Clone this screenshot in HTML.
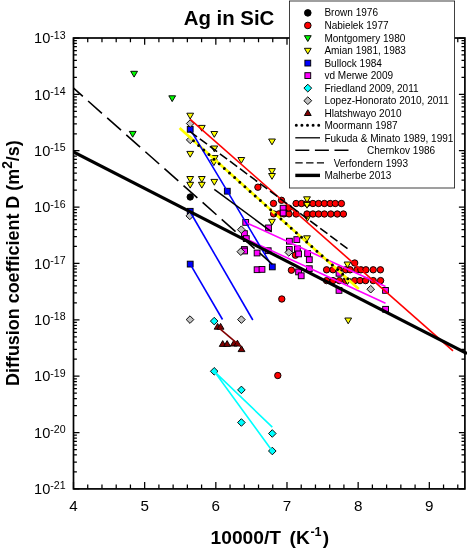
<!DOCTYPE html>
<html><head><meta charset="utf-8"><title>Ag in SiC</title><style>html,body{margin:0;padding:0;background:#fff}</style></head><body>
<svg width="467" height="549" viewBox="0 0 467 549" style="display:block">
<rect width="467" height="549" fill="#fff"/>
<defs><clipPath id="c"><rect x="73.50" y="38.00" width="393.50" height="450.90"/></clipPath></defs>
<g clip-path="url(#c)">
<circle cx="190.2" cy="197" r="3.2" fill="#000" stroke="#000" stroke-width="0.95"/>
<path d="M304.0 215.5H310.8L307.4 221.3Z" fill="#ff0" stroke="#000" stroke-width="0.95"/>
<circle cx="257.9" cy="187.2" r="3.2" fill="#f00" stroke="#000" stroke-width="0.95"/>
<circle cx="281.5" cy="200.3" r="3.2" fill="#f00" stroke="#000" stroke-width="0.95"/>
<circle cx="273.5" cy="203.4" r="3.2" fill="#f00" stroke="#000" stroke-width="0.95"/>
<circle cx="273.6" cy="213.9" r="3.2" fill="#f00" stroke="#000" stroke-width="0.95"/>
<circle cx="278.8" cy="213.9" r="3.2" fill="#f00" stroke="#000" stroke-width="0.95"/>
<circle cx="283.9" cy="213.9" r="3.2" fill="#f00" stroke="#000" stroke-width="0.95"/>
<circle cx="289" cy="213.9" r="3.2" fill="#f00" stroke="#000" stroke-width="0.95"/>
<circle cx="288.7" cy="208" r="3.2" fill="#f00" stroke="#000" stroke-width="0.95"/>
<circle cx="295.4" cy="255.2" r="3.2" fill="#f00" stroke="#000" stroke-width="0.95"/>
<circle cx="291.4" cy="270.2" r="3.2" fill="#f00" stroke="#000" stroke-width="0.95"/>
<circle cx="281.8" cy="299" r="3.2" fill="#f00" stroke="#000" stroke-width="0.95"/>
<circle cx="277.8" cy="375.5" r="3.2" fill="#f00" stroke="#000" stroke-width="0.95"/>
<circle cx="354.7" cy="263" r="3.2" fill="#f00" stroke="#000" stroke-width="0.95"/>
<circle cx="296.1" cy="203.5" r="3.2" fill="#f00" stroke="#000" stroke-width="0.95"/>
<circle cx="301.5" cy="203.5" r="3.2" fill="#f00" stroke="#000" stroke-width="0.95"/>
<circle cx="307" cy="203.5" r="3.2" fill="#f00" stroke="#000" stroke-width="0.95"/>
<circle cx="312.9" cy="203.5" r="3.2" fill="#f00" stroke="#000" stroke-width="0.95"/>
<circle cx="318.6" cy="203.5" r="3.2" fill="#f00" stroke="#000" stroke-width="0.95"/>
<circle cx="324.4" cy="203.5" r="3.2" fill="#f00" stroke="#000" stroke-width="0.95"/>
<circle cx="330.2" cy="203.5" r="3.2" fill="#f00" stroke="#000" stroke-width="0.95"/>
<circle cx="335.3" cy="203.5" r="3.2" fill="#f00" stroke="#000" stroke-width="0.95"/>
<circle cx="341.4" cy="203.5" r="3.2" fill="#f00" stroke="#000" stroke-width="0.95"/>
<circle cx="296.1" cy="214" r="3.2" fill="#f00" stroke="#000" stroke-width="0.95"/>
<circle cx="307" cy="214" r="3.2" fill="#f00" stroke="#000" stroke-width="0.95"/>
<circle cx="312.9" cy="214" r="3.2" fill="#f00" stroke="#000" stroke-width="0.95"/>
<circle cx="318.6" cy="214" r="3.2" fill="#f00" stroke="#000" stroke-width="0.95"/>
<circle cx="324.4" cy="214" r="3.2" fill="#f00" stroke="#000" stroke-width="0.95"/>
<circle cx="330.8" cy="214" r="3.2" fill="#f00" stroke="#000" stroke-width="0.95"/>
<circle cx="337.3" cy="214" r="3.2" fill="#f00" stroke="#000" stroke-width="0.95"/>
<circle cx="343.4" cy="214" r="3.2" fill="#f00" stroke="#000" stroke-width="0.95"/>
<circle cx="326.6" cy="269.8" r="3.2" fill="#f00" stroke="#000" stroke-width="0.95"/>
<circle cx="333" cy="269.8" r="3.2" fill="#f00" stroke="#000" stroke-width="0.95"/>
<circle cx="339" cy="269.8" r="3.2" fill="#f00" stroke="#000" stroke-width="0.95"/>
<circle cx="345.8" cy="269.8" r="3.2" fill="#f00" stroke="#000" stroke-width="0.95"/>
<circle cx="350.1" cy="269.8" r="3.2" fill="#f00" stroke="#000" stroke-width="0.95"/>
<circle cx="357" cy="269.8" r="3.2" fill="#f00" stroke="#000" stroke-width="0.95"/>
<circle cx="360.9" cy="269.8" r="3.2" fill="#f00" stroke="#000" stroke-width="0.95"/>
<circle cx="365.9" cy="269.8" r="3.2" fill="#f00" stroke="#000" stroke-width="0.95"/>
<circle cx="373.2" cy="269.8" r="3.2" fill="#f00" stroke="#000" stroke-width="0.95"/>
<circle cx="380.4" cy="269.8" r="3.2" fill="#f00" stroke="#000" stroke-width="0.95"/>
<circle cx="326.6" cy="280.6" r="3.2" fill="#f00" stroke="#000" stroke-width="0.95"/>
<circle cx="333" cy="280.6" r="3.2" fill="#f00" stroke="#000" stroke-width="0.95"/>
<circle cx="339.3" cy="280.6" r="3.2" fill="#f00" stroke="#000" stroke-width="0.95"/>
<circle cx="345.8" cy="280.6" r="3.2" fill="#f00" stroke="#000" stroke-width="0.95"/>
<circle cx="354.6" cy="280.6" r="3.2" fill="#f00" stroke="#000" stroke-width="0.95"/>
<circle cx="360" cy="280.6" r="3.2" fill="#f00" stroke="#000" stroke-width="0.95"/>
<circle cx="365.6" cy="280.6" r="3.2" fill="#f00" stroke="#000" stroke-width="0.95"/>
<circle cx="373.2" cy="280.6" r="3.2" fill="#f00" stroke="#000" stroke-width="0.95"/>
<circle cx="380.6" cy="280.6" r="3.2" fill="#f00" stroke="#000" stroke-width="0.95"/>
<path d="M130.7 71.3H137.5L134.1 77.1Z" fill="#0f0" stroke="#000" stroke-width="0.95"/>
<path d="M168.8 95.8H175.6L172.2 101.6Z" fill="#0f0" stroke="#000" stroke-width="0.95"/>
<path d="M129.3 131.4H136.1L132.7 137.2Z" fill="#0f0" stroke="#000" stroke-width="0.95"/>
<path d="M186.8 113.2H193.6L190.2 119.0Z" fill="#ff0" stroke="#000" stroke-width="0.95"/>
<path d="M198.4 125.4H205.2L201.8 131.2Z" fill="#ff0" stroke="#000" stroke-width="0.95"/>
<path d="M210.9 131.5H217.7L214.3 137.3Z" fill="#ff0" stroke="#000" stroke-width="0.95"/>
<path d="M210.9 146.0H217.7L214.3 151.8Z" fill="#ff0" stroke="#000" stroke-width="0.95"/>
<path d="M211.3 155.6H218.1L214.7 161.4Z" fill="#ff0" stroke="#000" stroke-width="0.95"/>
<path d="M210.5 159.8H217.3L213.9 165.6Z" fill="#ff0" stroke="#000" stroke-width="0.95"/>
<path d="M186.8 151.4H193.6L190.2 157.2Z" fill="#ff0" stroke="#000" stroke-width="0.95"/>
<path d="M237.9 157.5H244.7L241.3 163.3Z" fill="#ff0" stroke="#000" stroke-width="0.95"/>
<path d="M268.6 139.0H275.4L272 144.8Z" fill="#ff0" stroke="#000" stroke-width="0.95"/>
<path d="M268.6 168.6H275.4L272 174.4Z" fill="#ff0" stroke="#000" stroke-width="0.95"/>
<path d="M268.6 173.5H275.4L272 179.3Z" fill="#ff0" stroke="#000" stroke-width="0.95"/>
<path d="M186.8 176.5H193.6L190.2 182.3Z" fill="#ff0" stroke="#000" stroke-width="0.95"/>
<path d="M186.8 182.3H193.6L190.2 188.1Z" fill="#ff0" stroke="#000" stroke-width="0.95"/>
<path d="M198.4 176.5H205.2L201.8 182.3Z" fill="#ff0" stroke="#000" stroke-width="0.95"/>
<path d="M198.4 182.3H205.2L201.8 188.1Z" fill="#ff0" stroke="#000" stroke-width="0.95"/>
<path d="M210.9 179.4H217.7L214.3 185.2Z" fill="#ff0" stroke="#000" stroke-width="0.95"/>
<path d="M268.6 219.3H275.4L272 225.1Z" fill="#ff0" stroke="#000" stroke-width="0.95"/>
<path d="M303.6 196.8H310.4L307 202.6Z" fill="#ff0" stroke="#000" stroke-width="0.95"/>
<path d="M303.6 202.4H310.4L307 208.2Z" fill="#ff0" stroke="#000" stroke-width="0.95"/>
<path d="M303.6 235.8H310.4L307 241.6Z" fill="#ff0" stroke="#000" stroke-width="0.95"/>
<path d="M344.1 262.0H350.9L347.5 267.8Z" fill="#ff0" stroke="#000" stroke-width="0.95"/>
<path d="M344.1 278.8H350.9L347.5 284.6Z" fill="#ff0" stroke="#000" stroke-width="0.95"/>
<path d="M344.8 318.0H351.6L348.2 323.8Z" fill="#ff0" stroke="#000" stroke-width="0.95"/>
<rect x="187.3" y="126.4" width="5.8" height="5.8" fill="#00f" stroke="#000" stroke-width="0.95"/>
<rect x="224.4" y="188.3" width="5.8" height="5.8" fill="#00f" stroke="#000" stroke-width="0.95"/>
<rect x="187.3" y="208.4" width="5.8" height="5.8" fill="#00f" stroke="#000" stroke-width="0.95"/>
<rect x="187.3" y="261.2" width="5.8" height="5.8" fill="#00f" stroke="#000" stroke-width="0.95"/>
<rect x="269.4" y="264.0" width="5.8" height="5.8" fill="#00f" stroke="#000" stroke-width="0.95"/>
<rect x="280.2" y="205.3" width="5.8" height="5.8" fill="#f0f" stroke="#000" stroke-width="0.95"/>
<rect x="280.2" y="210.1" width="5.8" height="5.8" fill="#f0f" stroke="#000" stroke-width="0.95"/>
<rect x="242.8" y="219.5" width="5.8" height="5.8" fill="#f0f" stroke="#000" stroke-width="0.95"/>
<rect x="265.6" y="225.0" width="5.8" height="5.8" fill="#f0f" stroke="#000" stroke-width="0.95"/>
<rect x="241.5" y="230.7" width="5.8" height="5.8" fill="#f0f" stroke="#000" stroke-width="0.95"/>
<rect x="243.4" y="235.7" width="5.8" height="5.8" fill="#f0f" stroke="#000" stroke-width="0.95"/>
<rect x="241.5" y="246.6" width="5.8" height="5.8" fill="#f0f" stroke="#000" stroke-width="0.95"/>
<rect x="241.7" y="248.1" width="5.8" height="5.8" fill="#f0f" stroke="#000" stroke-width="0.95"/>
<rect x="254.2" y="250.1" width="5.8" height="5.8" fill="#f0f" stroke="#000" stroke-width="0.95"/>
<rect x="265.3" y="247.8" width="5.8" height="5.8" fill="#f0f" stroke="#000" stroke-width="0.95"/>
<rect x="254.2" y="266.8" width="5.8" height="5.8" fill="#f0f" stroke="#000" stroke-width="0.95"/>
<rect x="259.1" y="266.5" width="5.8" height="5.8" fill="#f0f" stroke="#000" stroke-width="0.95"/>
<rect x="286.5" y="238.3" width="5.8" height="5.8" fill="#f0f" stroke="#000" stroke-width="0.95"/>
<rect x="293.9" y="236.7" width="5.8" height="5.8" fill="#f0f" stroke="#000" stroke-width="0.95"/>
<rect x="286.4" y="246.5" width="5.8" height="5.8" fill="#f0f" stroke="#000" stroke-width="0.95"/>
<rect x="294.5" y="245.9" width="5.8" height="5.8" fill="#f0f" stroke="#000" stroke-width="0.95"/>
<rect x="295.7" y="251.0" width="5.8" height="5.8" fill="#f0f" stroke="#000" stroke-width="0.95"/>
<rect x="304.7" y="250.6" width="5.8" height="5.8" fill="#f0f" stroke="#000" stroke-width="0.95"/>
<rect x="306.4" y="256.8" width="5.8" height="5.8" fill="#f0f" stroke="#000" stroke-width="0.95"/>
<rect x="306.4" y="265.8" width="5.8" height="5.8" fill="#f0f" stroke="#000" stroke-width="0.95"/>
<rect x="295.7" y="269.0" width="5.8" height="5.8" fill="#f0f" stroke="#000" stroke-width="0.95"/>
<rect x="298.3" y="272.9" width="5.8" height="5.8" fill="#f0f" stroke="#000" stroke-width="0.95"/>
<rect x="336.1" y="270.4" width="5.8" height="5.8" fill="#f0f" stroke="#000" stroke-width="0.95"/>
<rect x="336.1" y="287.5" width="5.8" height="5.8" fill="#f0f" stroke="#000" stroke-width="0.95"/>
<rect x="382.6" y="287.5" width="5.8" height="5.8" fill="#f0f" stroke="#000" stroke-width="0.95"/>
<rect x="382.7" y="306.4" width="5.8" height="5.8" fill="#f0f" stroke="#000" stroke-width="0.95"/>
<path d="M210.4 321.1L214.2 317.3L218.0 321.1L214.2 324.9Z" fill="#0ff" stroke="#000" stroke-width="0.95"/>
<path d="M210.4 371.3L214.2 367.5L218.0 371.3L214.2 375.1Z" fill="#0ff" stroke="#000" stroke-width="0.95"/>
<path d="M237.6 389.9L241.4 386.1L245.2 389.9L241.4 393.7Z" fill="#0ff" stroke="#000" stroke-width="0.95"/>
<path d="M237.6 422.5L241.4 418.7L245.2 422.5L241.4 426.3Z" fill="#0ff" stroke="#000" stroke-width="0.95"/>
<path d="M268.5 433.5L272.3 429.7L276.1 433.5L272.3 437.3Z" fill="#0ff" stroke="#000" stroke-width="0.95"/>
<path d="M268.5 451L272.3 447.2L276.1 451L272.3 454.8Z" fill="#0ff" stroke="#000" stroke-width="0.95"/>
<path d="M186.4 123.5L190.2 119.7L194.0 123.5L190.2 127.3Z" fill="#c0c0c0" stroke="#000" stroke-width="0.95"/>
<path d="M186.4 139.9L190.2 136.1L194.0 139.9L190.2 143.7Z" fill="#c0c0c0" stroke="#000" stroke-width="0.95"/>
<path d="M186.0 215.9L189.8 212.1L193.6 215.9L189.8 219.7Z" fill="#c0c0c0" stroke="#000" stroke-width="0.95"/>
<path d="M237.5 229.7L241.3 225.9L245.1 229.7L241.3 233.5Z" fill="#c0c0c0" stroke="#000" stroke-width="0.95"/>
<path d="M237.0 251.7L240.8 247.9L244.6 251.7L240.8 255.5Z" fill="#c0c0c0" stroke="#000" stroke-width="0.95"/>
<path d="M285.0 252.4L288.8 248.6L292.6 252.4L288.8 256.2Z" fill="#c0c0c0" stroke="#000" stroke-width="0.95"/>
<path d="M186.2 319.6L190 315.8L193.8 319.6L190 323.4Z" fill="#c0c0c0" stroke="#000" stroke-width="0.95"/>
<path d="M237.6 319.6L241.4 315.8L245.2 319.6L241.4 323.4Z" fill="#c0c0c0" stroke="#000" stroke-width="0.95"/>
<path d="M366.9 289.2L370.7 285.4L374.5 289.2L370.7 293.0Z" fill="#c0c0c0" stroke="#000" stroke-width="0.95"/>
<path d="M214.2 329.2H221.0L217.6 323.4Z" fill="#800000" stroke="#000" stroke-width="0.95"/>
<path d="M217.2 329.2H224.0L220.6 323.4Z" fill="#800000" stroke="#000" stroke-width="0.95"/>
<path d="M219.3 346.4H226.1L222.7 340.6Z" fill="#800000" stroke="#000" stroke-width="0.95"/>
<path d="M223.7 346.4H230.5L227.1 340.6Z" fill="#800000" stroke="#000" stroke-width="0.95"/>
<path d="M230.4 346.0H237.2L233.8 340.2Z" fill="#800000" stroke="#000" stroke-width="0.95"/>
<path d="M234.0 346.0H240.8L237.4 340.2Z" fill="#800000" stroke="#000" stroke-width="0.95"/>
<path d="M238.1 351.6H244.9L241.5 345.8Z" fill="#800000" stroke="#000" stroke-width="0.95"/>
<path d="M245.7 222.4 L385.5 286.4 M246.3 239 L385.5 303.2" fill="none" stroke="#f0f" stroke-width="1.6"/>
<path d="M214.2 371.3 L272.3 427.1 M214.2 371.3 L272.3 451" fill="none" stroke="#0ff" stroke-width="1.6"/>
<path d="M218.8 327.8 L240.7 346.3" fill="none" stroke="#800000" stroke-width="1.6"/>
<path d="M179.6 128 L358.8 288.9" fill="none" stroke="#ff0" stroke-width="2.7"/>
<path d="M190.2 129.3 L227.3 191.2 L272.3 266.9" fill="none" stroke="#00f" stroke-width="1.6"/>
<path d="M190.2 212 L252.8 320" fill="none" stroke="#00f" stroke-width="1.6"/>
<path d="M190.2 264.1 L222.5 319.5" fill="none" stroke="#00f" stroke-width="1.6"/>
<path d="M190.2 119.3 L453 350.9" fill="none" stroke="#f00" stroke-width="1.6"/>
<path d="M193.5 140.8 L349 279.8" fill="none" stroke="#000" stroke-width="3.0" stroke-linecap="round" stroke-dasharray="0 6.9"/>
<path d="M214.3 189.3 L271.7 231.8" fill="none" stroke="#000" stroke-width="1.5"/>
<path d="M69.0 84.1 L272.4 264.3" fill="none" stroke="#000" stroke-width="1.6" stroke-dasharray="18.5 7"/>
<path d="M189.8 131.4 L350 250.5" fill="none" stroke="#000" stroke-width="1.6" stroke-dasharray="9 3.5"/>
<path d="M73.5 151.9 L467 353.6" fill="none" stroke="#000" stroke-width="3.1"/>
</g>
<g stroke="#000" stroke-width="1.7" fill="none"><rect x="73.5" y="38.0" width="391.40" height="450.90"/></g>
<g stroke="#000" stroke-width="1.25">
<path d="M73.50 488.9v-6.8 M73.50 38.0v6.8"/>
<path d="M87.73 488.9v-4.3 M87.73 38.0v4.3"/>
<path d="M101.97 488.9v-4.3 M101.97 38.0v4.3"/>
<path d="M116.20 488.9v-4.3 M116.20 38.0v4.3"/>
<path d="M130.43 488.9v-4.3 M130.43 38.0v4.3"/>
<path d="M144.66 488.9v-6.8 M144.66 38.0v6.8"/>
<path d="M158.90 488.9v-4.3 M158.90 38.0v4.3"/>
<path d="M173.13 488.9v-4.3 M173.13 38.0v4.3"/>
<path d="M187.36 488.9v-4.3 M187.36 38.0v4.3"/>
<path d="M201.59 488.9v-4.3 M201.59 38.0v4.3"/>
<path d="M215.83 488.9v-6.8 M215.83 38.0v6.8"/>
<path d="M230.06 488.9v-4.3 M230.06 38.0v4.3"/>
<path d="M244.29 488.9v-4.3 M244.29 38.0v4.3"/>
<path d="M258.53 488.9v-4.3 M258.53 38.0v4.3"/>
<path d="M272.76 488.9v-4.3 M272.76 38.0v4.3"/>
<path d="M286.99 488.9v-6.8 M286.99 38.0v6.8"/>
<path d="M301.22 488.9v-4.3 M301.22 38.0v4.3"/>
<path d="M315.46 488.9v-4.3 M315.46 38.0v4.3"/>
<path d="M329.69 488.9v-4.3 M329.69 38.0v4.3"/>
<path d="M343.92 488.9v-4.3 M343.92 38.0v4.3"/>
<path d="M358.15 488.9v-6.8 M358.15 38.0v6.8"/>
<path d="M372.39 488.9v-4.3 M372.39 38.0v4.3"/>
<path d="M386.62 488.9v-4.3 M386.62 38.0v4.3"/>
<path d="M400.85 488.9v-4.3 M400.85 38.0v4.3"/>
<path d="M415.09 488.9v-4.3 M415.09 38.0v4.3"/>
<path d="M429.32 488.9v-6.8 M429.32 38.0v6.8"/>
<path d="M443.55 488.9v-4.3 M443.55 38.0v4.3"/>
<path d="M457.78 488.9v-4.3 M457.78 38.0v4.3"/>
<path d="M472.02 488.9v-4.3 M472.02 38.0v4.3"/>
<path d="M73.5 38.00h6 M464.9 38.00h-6"/>
<path d="M73.5 77.40h3.4 M464.9 77.40h-3.4"/>
<path d="M73.5 67.47h3.4 M464.9 67.47h-3.4"/>
<path d="M73.5 60.43h3.4 M464.9 60.43h-3.4"/>
<path d="M73.5 54.97h3.4 M464.9 54.97h-3.4"/>
<path d="M73.5 50.50h3.4 M464.9 50.50h-3.4"/>
<path d="M73.5 46.73h3.4 M464.9 46.73h-3.4"/>
<path d="M73.5 43.46h3.4 M464.9 43.46h-3.4"/>
<path d="M73.5 40.58h3.4 M464.9 40.58h-3.4"/>
<path d="M73.5 94.36h6 M464.9 94.36h-6"/>
<path d="M73.5 133.76h3.4 M464.9 133.76h-3.4"/>
<path d="M73.5 123.83h3.4 M464.9 123.83h-3.4"/>
<path d="M73.5 116.79h3.4 M464.9 116.79h-3.4"/>
<path d="M73.5 111.33h3.4 M464.9 111.33h-3.4"/>
<path d="M73.5 106.87h3.4 M464.9 106.87h-3.4"/>
<path d="M73.5 103.09h3.4 M464.9 103.09h-3.4"/>
<path d="M73.5 99.82h3.4 M464.9 99.82h-3.4"/>
<path d="M73.5 96.94h3.4 M464.9 96.94h-3.4"/>
<path d="M73.5 150.72h6 M464.9 150.72h-6"/>
<path d="M73.5 190.12h3.4 M464.9 190.12h-3.4"/>
<path d="M73.5 180.20h3.4 M464.9 180.20h-3.4"/>
<path d="M73.5 173.15h3.4 M464.9 173.15h-3.4"/>
<path d="M73.5 167.69h3.4 M464.9 167.69h-3.4"/>
<path d="M73.5 163.23h3.4 M464.9 163.23h-3.4"/>
<path d="M73.5 159.46h3.4 M464.9 159.46h-3.4"/>
<path d="M73.5 156.19h3.4 M464.9 156.19h-3.4"/>
<path d="M73.5 153.30h3.4 M464.9 153.30h-3.4"/>
<path d="M73.5 207.09h6 M464.9 207.09h-6"/>
<path d="M73.5 246.48h3.4 M464.9 246.48h-3.4"/>
<path d="M73.5 236.56h3.4 M464.9 236.56h-3.4"/>
<path d="M73.5 229.52h3.4 M464.9 229.52h-3.4"/>
<path d="M73.5 224.05h3.4 M464.9 224.05h-3.4"/>
<path d="M73.5 219.59h3.4 M464.9 219.59h-3.4"/>
<path d="M73.5 215.82h3.4 M464.9 215.82h-3.4"/>
<path d="M73.5 212.55h3.4 M464.9 212.55h-3.4"/>
<path d="M73.5 209.67h3.4 M464.9 209.67h-3.4"/>
<path d="M73.5 263.45h6 M464.9 263.45h-6"/>
<path d="M73.5 302.85h3.4 M464.9 302.85h-3.4"/>
<path d="M73.5 292.92h3.4 M464.9 292.92h-3.4"/>
<path d="M73.5 285.88h3.4 M464.9 285.88h-3.4"/>
<path d="M73.5 280.42h3.4 M464.9 280.42h-3.4"/>
<path d="M73.5 275.95h3.4 M464.9 275.95h-3.4"/>
<path d="M73.5 272.18h3.4 M464.9 272.18h-3.4"/>
<path d="M73.5 268.91h3.4 M464.9 268.91h-3.4"/>
<path d="M73.5 266.03h3.4 M464.9 266.03h-3.4"/>
<path d="M73.5 319.81h6 M464.9 319.81h-6"/>
<path d="M73.5 359.21h3.4 M464.9 359.21h-3.4"/>
<path d="M73.5 349.28h3.4 M464.9 349.28h-3.4"/>
<path d="M73.5 342.24h3.4 M464.9 342.24h-3.4"/>
<path d="M73.5 336.78h3.4 M464.9 336.78h-3.4"/>
<path d="M73.5 332.32h3.4 M464.9 332.32h-3.4"/>
<path d="M73.5 328.54h3.4 M464.9 328.54h-3.4"/>
<path d="M73.5 325.27h3.4 M464.9 325.27h-3.4"/>
<path d="M73.5 322.39h3.4 M464.9 322.39h-3.4"/>
<path d="M73.5 376.17h6 M464.9 376.17h-6"/>
<path d="M73.5 415.57h3.4 M464.9 415.57h-3.4"/>
<path d="M73.5 405.65h3.4 M464.9 405.65h-3.4"/>
<path d="M73.5 398.60h3.4 M464.9 398.60h-3.4"/>
<path d="M73.5 393.14h3.4 M464.9 393.14h-3.4"/>
<path d="M73.5 388.68h3.4 M464.9 388.68h-3.4"/>
<path d="M73.5 384.91h3.4 M464.9 384.91h-3.4"/>
<path d="M73.5 381.64h3.4 M464.9 381.64h-3.4"/>
<path d="M73.5 378.75h3.4 M464.9 378.75h-3.4"/>
<path d="M73.5 432.54h6 M464.9 432.54h-6"/>
<path d="M73.5 471.93h3.4 M464.9 471.93h-3.4"/>
<path d="M73.5 462.01h3.4 M464.9 462.01h-3.4"/>
<path d="M73.5 454.97h3.4 M464.9 454.97h-3.4"/>
<path d="M73.5 449.50h3.4 M464.9 449.50h-3.4"/>
<path d="M73.5 445.04h3.4 M464.9 445.04h-3.4"/>
<path d="M73.5 441.27h3.4 M464.9 441.27h-3.4"/>
<path d="M73.5 438.00h3.4 M464.9 438.00h-3.4"/>
<path d="M73.5 435.12h3.4 M464.9 435.12h-3.4"/>
<path d="M73.5 488.90h6 M464.9 488.90h-6"/>
</g>
<g font-family="'Liberation Sans',Arial,Helvetica,sans-serif" fill="#000">
<text x="229" y="24.6" font-size="20.4" font-weight="bold" text-anchor="middle">Ag in SiC</text>
<text x="210.6" y="544.4" font-size="19.2" font-weight="bold" word-spacing="3.2">10000/T (K<tspan font-size="12.6" dy="-8.8" dx="0.6">-1</tspan><tspan dy="8.8" dx="1.2">)</tspan></text>
<text transform="translate(19.3,386.0) rotate(-90)" font-size="18.6" font-weight="bold" textLength="245.8" lengthAdjust="spacingAndGlyphs">Diffusion coefficient D (m<tspan font-size="14.3" dy="-7.2">2</tspan><tspan dy="7.2">/s)</tspan></text>
<text x="73.5" y="511.2" font-size="15.2" text-anchor="middle">4</text>
<text x="144.7" y="511.2" font-size="15.2" text-anchor="middle">5</text>
<text x="215.8" y="511.2" font-size="15.2" text-anchor="middle">6</text>
<text x="287.0" y="511.2" font-size="15.2" text-anchor="middle">7</text>
<text x="358.2" y="511.2" font-size="15.2" text-anchor="middle">8</text>
<text x="429.3" y="511.2" font-size="15.2" text-anchor="middle">9</text>
<text x="65.6" y="43.1" font-size="14.6" text-anchor="end">10<tspan font-size="10.6" dy="-4.6">-13</tspan></text>
<text x="65.6" y="99.5" font-size="14.6" text-anchor="end">10<tspan font-size="10.6" dy="-4.6">-14</tspan></text>
<text x="65.6" y="155.8" font-size="14.6" text-anchor="end">10<tspan font-size="10.6" dy="-4.6">-15</tspan></text>
<text x="65.6" y="212.2" font-size="14.6" text-anchor="end">10<tspan font-size="10.6" dy="-4.6">-16</tspan></text>
<text x="65.6" y="268.6" font-size="14.6" text-anchor="end">10<tspan font-size="10.6" dy="-4.6">-17</tspan></text>
<text x="65.6" y="324.9" font-size="14.6" text-anchor="end">10<tspan font-size="10.6" dy="-4.6">-18</tspan></text>
<text x="65.6" y="381.3" font-size="14.6" text-anchor="end">10<tspan font-size="10.6" dy="-4.6">-19</tspan></text>
<text x="65.6" y="437.6" font-size="14.6" text-anchor="end">10<tspan font-size="10.6" dy="-4.6">-20</tspan></text>
<text x="65.6" y="494.0" font-size="14.6" text-anchor="end">10<tspan font-size="10.6" dy="-4.6">-21</tspan></text>
</g>
<rect x="289.5" y="1.0" width="165.1" height="187.0" fill="#fff" stroke="#111" stroke-width="0.8"/>
<circle cx="307.8" cy="12.9" r="3.3" fill="#000" stroke="#000" stroke-width="0.95"/>
<circle cx="307.8" cy="25.439999999999998" r="3.3" fill="#f00" stroke="#000" stroke-width="0.95"/>
<path d="M304.4 35.7H311.2L307.8 41.5Z" fill="#0f0" stroke="#000" stroke-width="0.95"/>
<path d="M304.4 48.3H311.2L307.8 54.1Z" fill="#ff0" stroke="#000" stroke-width="0.95"/>
<rect x="304.9" y="60.2" width="5.8" height="5.8" fill="#00f" stroke="#000" stroke-width="0.95"/>
<rect x="304.9" y="72.7" width="5.8" height="5.8" fill="#f0f" stroke="#000" stroke-width="0.95"/>
<path d="M303.9 88.14L307.8 84.2L311.7 88.14L307.8 92.0Z" fill="#0ff" stroke="#000" stroke-width="0.95"/>
<path d="M303.9 100.68L307.8 96.8L311.7 100.68L307.8 104.6Z" fill="#c0c0c0" stroke="#000" stroke-width="0.95"/>
<path d="M304.4 115.5H311.2L307.8 109.7Z" fill="#800000" stroke="#000" stroke-width="0.95"/>
<g fill="none" stroke="#000">
<path d="M296.3 125.3H320" stroke-width="3.0" stroke-linecap="round" stroke-dasharray="0 5.6"/>
<path d="M295.3 137.8H320" stroke-width="1.3"/>
<path d="M295.3 150.3H349" stroke-width="1.4" stroke-dasharray="14 5.6"/>
<path d="M295.3 162.9H324" stroke-width="1.4" stroke-dasharray="7.4 3.4"/>
<path d="M295.3 175.4H320" stroke-width="3.4"/>
</g>
<g font-family="'Liberation Sans',Arial,Helvetica,sans-serif" font-size="10.05" fill="#000">
<text x="324.4" y="16.4">Brown 1976</text>
<text x="324.4" y="28.9">Nabielek 1977</text>
<text x="324.4" y="41.5">Montgomery 1980</text>
<text x="324.4" y="54.0">Amian 1981, 1983</text>
<text x="324.4" y="66.6">Bullock 1984</text>
<text x="324.4" y="79.1">vd Merwe 2009</text>
<text x="324.4" y="91.6">Friedland 2009, 2011</text>
<text x="324.4" y="104.2">Lopez-Honorato 2010, 2011</text>
<text x="324.4" y="116.7">Hlatshwayo 2010</text>
<text x="324.4" y="129.3">Moormann 1987</text>
<text x="324.4" y="141.8">Fukuda &amp; Minato 1989, 1991</text>
<text x="367.0" y="154.3">Chernkov 1986</text>
<text x="333.7" y="166.9">Verfondern 1993</text>
<text x="324.4" y="179.4">Malherbe 2013</text>
</g>
</svg>
</body></html>
